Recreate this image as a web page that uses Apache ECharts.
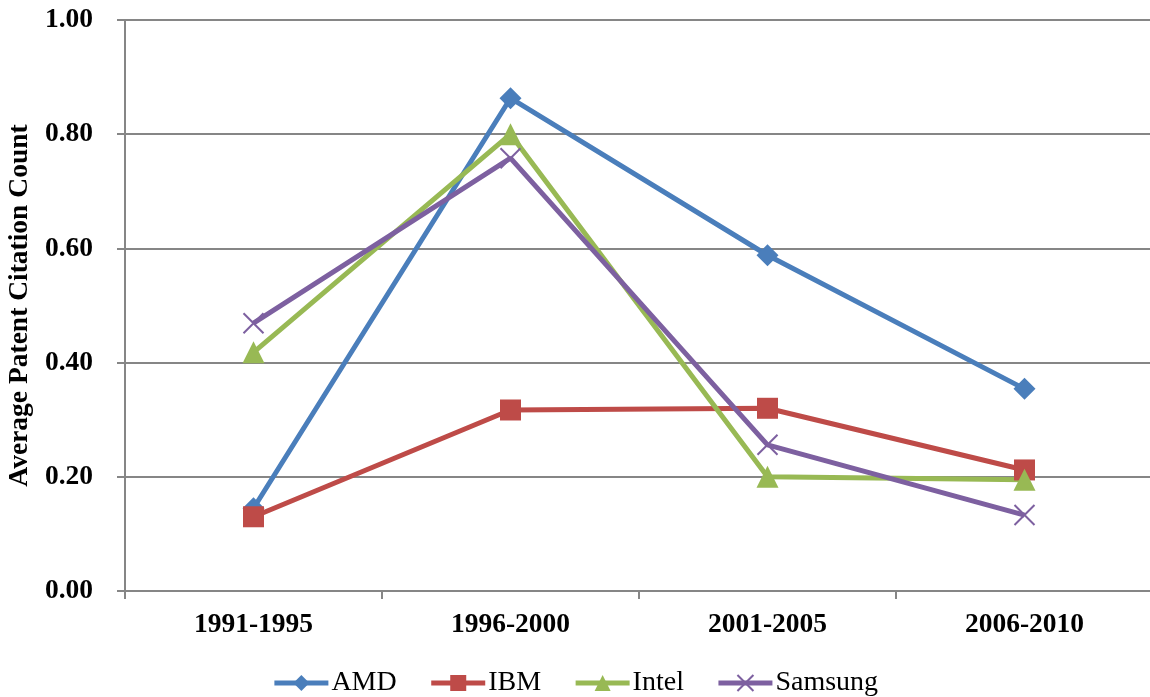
<!DOCTYPE html>
<html>
<head>
<meta charset="utf-8">
<script src="https://cdn.jsdelivr.net/npm/echarts@6/dist/echarts.min.js"></script>
<style>html,body{margin:0;padding:0;background:#fff}#c{width:1150px;height:697px}</style>
</head>
<body>
<div id="c"></div>
<script>
const categories = ['1991-1995', '1996-2000', '2001-2005', '2006-2010'];
const amd = [0.145, 0.863, 0.588, 0.354];
const ibm = [0.130, 0.317, 0.320, 0.212];
const intel = [0.418, 0.800, 0.200, 0.195];
const samsung = [0.469, 0.758, 0.256, 0.133];
const yTicks = [0, 0.2, 0.4, 0.6, 0.8, 1.0];

const font = '"Liberation Serif","Times New Roman",serif';
const chart = echarts.init(document.getElementById('c'));
function mk(name, data, color, symbol, size, extra) {
  return Object.assign({
    name, type: 'line', data, symbol, symbolSize: size,
    lineStyle: { color, width: 5 },
    itemStyle: { color },
    emphasis: { disabled: true },
    animation: false
  }, extra || {});
}
chart.setOption({
  animation: false,
  grid: { left: 125, right: -3, top: 20, bottom: 106, containLabel: false, outerBoundsMode: 'none' },
  legend: {
    top: 664, left: 'center', itemWidth: 54, itemHeight: 20, itemGap: 32,
    lineStyle: { width: 5 },
    textStyle: { fontFamily: font, fontSize: 28, color: '#000', padding: [0, 0, 0, -2] },
    data: ['AMD', 'IBM', 'Intel', 'Samsung']
  },
  xAxis: {
    type: 'category', data: categories, boundaryGap: true,
    axisLine: { lineStyle: { color: '#868686', width: 2 } },
    axisTick: { show: true, length: 8, lineStyle: { color: '#868686', width: 2 } },
    axisLabel: { fontFamily: font, fontWeight: 'bold', fontSize: 27.5, color: '#000', margin: 20 }
  },
  yAxis: {
    type: 'value', min: 0, max: 1, interval: 0.2,
    name: 'Average Patent Citation Count', nameLocation: 'middle', nameGap: 91,
    nameTextStyle: { fontFamily: font, fontWeight: 'bold', fontSize: 27.5, color: '#000' },
    axisLine: { show: true, lineStyle: { color: '#868686', width: 2 } },
    axisTick: { show: true, length: 8, lineStyle: { color: '#868686', width: 2 } },
    splitLine: { lineStyle: { color: '#868686', width: 2 } },
    axisLabel: {
      fontFamily: font, fontWeight: 'bold', fontSize: 27.5, color: '#000', margin: 32,
      formatter: v => { const t = yTicks.find(x => Math.abs(x - v) < 1e-9); return (t !== undefined ? t : v).toFixed(2); }
    }
  },
  series: [
    mk('AMD', amd, '#4A7EBB', 'diamond', 22),
    mk('IBM', ibm, '#BE4B48', 'rect', 21),
    mk('Intel', intel, '#98B954', 'triangle', 22),
    mk('Samsung', samsung, '#7D60A0', 'path://M0,0L10,10M10,0L0,10', 20, {
      itemStyle: { color: 'transparent', borderColor: '#7D60A0', borderWidth: 2 }
    })
  ]
});
</script>
</body>
</html>
